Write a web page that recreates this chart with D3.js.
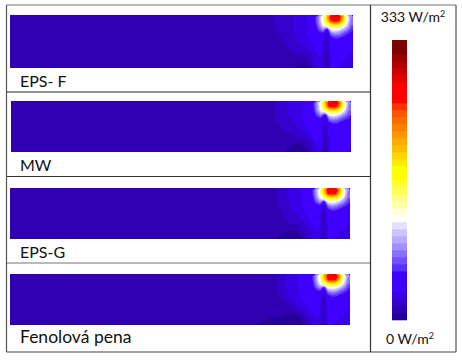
<!DOCTYPE html>
<html>
<head>
<meta charset="utf-8">
<script src="https://cdnjs.cloudflare.com/ajax/libs/d3/7.8.5/d3.min.js"></script>
<style>
body { margin: 0; background: #fff; }
text { font-family: Lato, "Open Sans", sans-serif; fill: #111; }
</style>
</head>
<body>
<script>
// legend bands, bottom (0 W/m2) to top (333 W/m2)
var bandColors = ['#240099','#3000b2','#3300cc','#3800e6','#4000ff','#4000ff','#4000ff','#5a30ff','#7050ff','#8870ff',
    '#a090ff','#b8acff','#ccc4ff','#e6e0ff','#ffffff','#ffffd5','#ffffaa','#ffff80','#ffff55','#ffff33',
    '#ffff00','#ffff00','#ffea00','#ffd500','#ffbf00','#ffaa00','#ff9500','#ff8000','#ff6a00','#ff5500',
    '#ff3300','#ff0000','#ff0000','#ff0000','#e50000','#cc0000','#b30000','#990000','#7f0000','#7f0000'];
var maxValue = 333;
var baseValue = 12;

var names = ['EPS- F', 'MW', 'EPS-G', 'Fenolová pena'];
var nameSizes = [16, 16, 16, 17.5];

var fieldF = [
 [12,12,12,12,14,20,20,20,22,24,26,28,30,34,40,55,90,135,205,280,285,285,215,130,85],
 [12,12,12,12,14,20,20,20,22,24,26,28,30,33,38,54,88,130,190,255,265,255,190,125,80],
 [12,12,12,12,13,18,20,20,22,24,26,28,30,32,36,48,82,118,150,175,185,178,150,108,75],
 [12,12,12,12,12,16,20,20,20,24,26,28,30,32,36,44,68,88,50,120,125,118,102,85,65],
 [12,12,12,12,12,14,18,20,20,22,26,28,30,34,35,40,50,55,22,80,90,85,72,62,55],
 [12,12,12,12,12,12,14,18,20,20,24,26,28,30,35,38,42,40,16,55,62,62,55,50,46],
 [12,12,12,12,12,12,13,16,20,20,22,26,28,30,34,36,38,36,14,46,50,48,46,42,40],
 [12,12,12,12,12,12,12,14,18,20,20,22,26,28,30,35,36,34,13,40,42,42,40,38,36],
 [12,12,12,12,12,12,12,12,14,18,20,20,20,24,28,35,35,32,13,38,38,38,36,35,34],
 [12,12,12,12,12,12,12,12,12,14,18,18,18,20,24,30,34,32,13,36,36,36,35,34,33],
 [12,12,12,12,12,12,12,12,12,12,14,14,14,16,20,28,33,30,13,35,35,35,34,33,31],
 [12,12,12,12,12,12,12,12,12,12,12,10,8,10,16,26,30,28,13,34,35,34,33,31,30],
 [12,12,12,12,12,12,12,12,12,12,10,6,6,6,12,24,28,26,13,34,34,33,31,30,28]
];
var fieldMW = [
 [12,12,12,12,12,14,20,22,24,26,28,30,32,35,40,55,90,135,205,280,285,285,215,130,85],
 [12,12,12,12,12,14,20,22,24,26,28,30,32,35,38,54,88,130,190,255,265,255,190,125,80],
 [12,12,12,12,12,14,20,22,24,26,28,30,32,35,36,48,82,118,150,175,185,178,150,108,75],
 [12,12,12,12,12,14,20,22,24,26,28,30,32,35,36,44,68,88,50,120,125,118,102,85,68],
 [12,12,12,12,12,13,20,20,22,24,26,28,32,35,36,40,50,55,22,80,90,85,72,62,58],
 [12,12,12,12,12,12,16,20,20,22,24,28,30,35,36,38,42,40,16,55,62,62,55,50,46],
 [12,12,12,12,12,12,13,18,20,20,22,26,28,33,35,36,38,36,14,46,50,48,46,44,42],
 [12,12,12,12,12,12,12,14,18,20,20,22,26,28,32,36,36,36,13,40,42,42,40,38,37],
 [12,12,12,12,12,12,12,12,14,16,18,20,22,24,28,35,36,36,13,38,38,38,38,37,36],
 [12,12,12,12,12,12,12,12,12,12,14,16,16,20,24,34,36,36,13,36,36,36,36,36,35],
 [12,12,12,12,12,12,12,12,12,12,10,10,10,14,18,30,35,35,13,35,36,36,36,35,34],
 [12,12,12,12,12,12,12,12,12,10,7,6,6,10,16,26,34,34,13,34,35,36,35,34,34],
 [12,12,12,12,12,12,12,12,10,6,5,5,5,7,14,24,30,30,13,34,35,35,35,34,33]
];
var fieldG = [
 [12,12,12,12,12,12,16,20,22,26,28,30,32,35,40,55,90,135,205,280,285,285,215,130,85],
 [12,12,12,12,12,12,16,20,22,26,28,30,32,35,38,54,88,130,190,255,265,255,190,125,80],
 [12,12,12,12,12,12,16,20,22,26,28,30,32,35,36,48,82,118,150,175,185,178,150,108,75],
 [12,12,12,12,12,12,16,20,22,24,28,30,32,35,36,44,68,88,50,120,125,118,102,85,65],
 [12,12,12,12,12,12,14,18,20,24,26,28,32,35,36,40,50,55,22,80,90,85,72,62,55],
 [12,12,12,12,12,12,13,16,20,22,26,28,30,34,36,38,42,40,16,55,62,62,55,50,46],
 [12,12,12,12,12,12,12,14,18,20,22,26,28,33,35,36,38,36,14,46,50,48,46,42,40],
 [12,12,12,12,12,12,12,13,16,20,20,22,26,28,33,36,36,35,13,40,42,42,40,38,36],
 [12,12,12,12,12,12,12,12,14,18,20,20,22,26,28,35,36,35,13,38,38,38,36,35,34],
 [12,12,12,12,12,12,12,12,12,14,14,16,20,24,26,34,35,34,13,36,36,36,35,34,33],
 [12,12,12,12,12,12,12,12,10,10,10,10,14,20,24,30,34,33,13,35,36,35,34,33,31],
 [12,12,12,12,12,12,12,10,8,6,6,6,10,16,22,28,33,30,13,34,35,34,33,31,30],
 [12,12,12,12,12,12,10,6,5,5,5,5,7,14,20,26,30,28,13,34,34,33,32,30,28]
];
var fieldP = [
 [12,12,12,12,12,12,16,20,24,28,30,32,34,36,42,55,90,135,205,280,285,285,215,130,85],
 [12,12,12,12,12,12,16,20,24,28,30,32,34,36,40,54,88,130,190,255,265,255,190,125,80],
 [12,12,12,12,12,12,16,20,24,28,30,32,34,36,38,48,82,118,150,175,185,178,150,108,75],
 [12,12,12,12,12,12,14,20,24,26,30,32,34,35,38,44,68,88,50,120,125,118,102,85,65],
 [12,12,12,12,12,12,14,20,22,26,28,32,34,35,36,42,50,55,22,80,90,85,72,62,55],
 [12,12,12,12,12,12,13,18,20,24,28,30,33,35,36,38,42,40,16,55,62,62,55,50,46],
 [12,12,12,12,12,12,12,14,20,22,26,28,32,35,36,36,38,36,14,46,50,48,46,42,40],
 [12,12,12,12,12,12,12,12,14,18,22,26,28,33,35,36,36,35,13,40,42,42,40,38,36],
 [12,12,12,12,12,12,12,12,12,14,18,22,26,28,33,35,36,35,13,38,38,38,36,35,34],
 [12,12,12,12,12,12,12,12,12,12,12,14,20,24,28,34,35,34,13,36,36,36,35,34,33],
 [12,12,12,12,12,12,12,10,8,7,7,8,12,20,24,30,34,33,13,35,36,35,34,33,32],
 [12,12,12,10,8,6,6,5,5,5,5,5,7,14,20,28,33,30,13,34,35,34,33,32,30],
 [12,10,6,5,5,5,5,5,5,5,5,5,6,10,18,26,30,28,13,34,34,33,32,31,29]
];
var fields = [fieldF, fieldMW, fieldG, fieldP];

var width = 462;
var height = 360;
var panelBoxes = [
    { x0: 10, x1: 353, y0: 15, y1: 68, label: 87 },
    { x0: 11, x1: 351, y0: 101, y1: 152, label: 171 },
    { x0: 10, x1: 350, y0: 188, y1: 239, label: 258 },
    { x0: 10, x1: 350, y0: 274, y1: 325, label: 343 }
];
var fieldSpan = 100; // px of the panel that the field arrays cover

var svg = d3.select('body').append('svg')
    .attr('width', width)
    .attr('height', height)
    .style('display', 'block');

var color = d3.scaleQuantize().domain([0, maxValue]).range(bandColors);
var thresholds = d3.range(bandColors.length).map(function(i) {
    return i * maxValue / bandColors.length;
});

var drawPanel = function(box, i) {
    var field = fields[i];
    var rows = field.length;
    var cols = field[0].length;
    var xScale = d3.scaleLinear().domain([0, cols]).range([box.x1 - fieldSpan, box.x1]);
    var yScale = d3.scaleLinear().domain([0, rows]).range([box.y0, box.y1]);

    var g = svg.append('g').classed('panel', true);
    g.append('rect')
        .attr('x', box.x0)
        .attr('y', box.y0)
        .attr('width', box.x1 - box.x0)
        .attr('height', box.y1 - box.y0)
        .attr('fill', color(baseValue));

    var contours = d3.contours()
        .size([cols, rows])
        .thresholds(thresholds)(d3.merge(field));

    var path = d3.geoPath(d3.geoTransform({
        point: function(x, y) { this.stream.point(xScale(x), yScale(y)); }
    }));

    g.selectAll('path')
        .data(contours)
        .enter().append('path')
        .attr('d', path)
        .attr('fill', function(d) { return color(d.value + 1); });

    svg.append('text')
        .attr('x', 20)
        .attr('y', box.label)
        .attr('font-size', nameSizes[i])
        .text(names[i]);
};

panelBoxes.forEach(drawPanel);

// table rules
var rules = [
    [6.5, 5, 456, 5, '#777'], [6.5, 92, 370, 92, '#222'], [6.5, 176.5, 370, 176.5, '#333'],
    [6.5, 263, 370, 263, '#777'], [6.5, 352, 456, 352, '#444'], [6.5, 5, 6.5, 352, '#555'],
    [370.5, 5, 370.5, 352, '#333'], [456, 5, 456, 352, '#555']
];
svg.selectAll('line.rule').data(rules).enter().append('line')
    .classed('rule', true)
    .attr('x1', function(d) { return d[0]; })
    .attr('y1', function(d) { return d[1]; })
    .attr('x2', function(d) { return d[2]; })
    .attr('y2', function(d) { return d[3]; })
    .attr('stroke', function(d) { return d[4]; })
    .attr('stroke-width', 1.2);

// legend bar
var legendY = d3.scaleLinear().domain([0, maxValue]).range([320, 40]);
svg.selectAll('rect.band').data(thresholds).enter().append('rect')
    .classed('band', true)
    .attr('x', 392)
    .attr('width', 15)
    .attr('y', function(d) { return legendY(d + maxValue / bandColors.length); })
    .attr('height', legendY(0) - legendY(maxValue / bandColors.length) + 0.3)
    .attr('fill', function(d) { return color(d + 1); });

var legendLabel = function(value, x, y) {
    var t = svg.append('text')
        .attr('x', x)
        .attr('y', y)
        .attr('text-anchor', 'middle')
        .attr('font-size', 14)
        .text(value + ' W/m');
    t.append('tspan').attr('font-size', 9).attr('dy', -5).text('2');
};
legendLabel(maxValue, 413, 22);
legendLabel(0, 410, 344);
</script>
</body>
</html>
